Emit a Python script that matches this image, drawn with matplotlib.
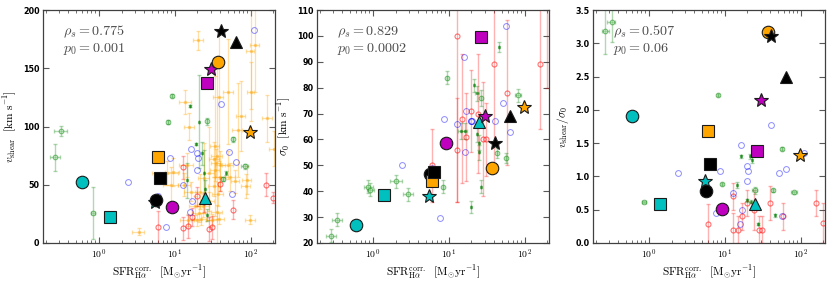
import numpy as np
import matplotlib
matplotlib.use("Agg")
import matplotlib.pyplot as plt
from matplotlib.ticker import FuncFormatter, LogLocator, MultipleLocator, NullFormatter

plt.rcParams['mathtext.fontset'] = 'cm'
plt.rcParams['font.family'] = ['DejaVu Sans']

# ---------------- data ----------------
# large symbols (same galaxies in all panels)
big_x = [0.6, 1.4, 5.5, 5.7, 6.0, 6.4, 9.3, 25.0, 26.5, 30.5, 37.0, 41.0, 65.0, 97.0]
big_marker = ['o', 's', '*', 'o', 's', 's', 'o', '^', 's', '*', 'o', '*', '^', '*']
big_color = ['c', 'c', 'c', 'k', '#FFA500', 'k', 'm', 'c', 'm', 'm', '#FFA500', 'k', 'k', '#FFA500']
big_vshear = [52, 22.3, 35.4, 37, 73.7, 55.7, 30.5, 39, 137.7, 149, 155, 182, 172.6, 95.4]
big_sigma = [27.1, 38.5, 38.0, 46.7, 43.9, 47.5, 58.6, 66.8, 99.4, 69.2, 48.9, 58.6, 69.0, 72.4]
big_ratio = [1.915, 0.58, 0.935, 0.785, 1.685, 1.185, 0.515, 0.58, 1.385, 2.15, 3.165, 3.115, 2.5, 1.315]

# red sample
red_x = [6.0, 13.0, 13.0, 15.0, 17.0, 19.5, 24.5, 28.3, 31.4, 40.0, 58.0, 160.0, 198.0]
red_vshear = [13.4, 65, 12.6, 14.3, 22.3, 40, 35, 12, 13.4, 51, 28.6, 50, 39]
red_vshear_err = [14, 10, 10, 10, 8, 8, 8, 10, 10, 6, 8, 10, 5]
red_sigma = [50, 100, 56, 68, 61, 71, 70, 60, 60, 89, 78, 89, 130]
red_sigma_err = [14, 64, 20, 25, 17, 16, 23, 22, 14, 42, 28, 25, 50]
red_ratio = [0.29, 0.70, 0.20, 0.20, 0.40, 0.60, 0.50, 0.20, 0.20, 0.60, 0.40, 0.60, 0.30]
red_ratio_err = [0.3, 0.2, 0.25, 0.2, 0.2, 0.2, 0.3, 0.2, 0.2, 0.25, 0.2, 0.2, 0.3]

# blue sample
blue_x = [2.45, 6.1, 7.7, 8.6, 12.8, 16.0, 16.6, 17.1, 19.6, 20.2, 19.8, 41, 52, 57, 64, 111]
blue_vshear = [52.6, 40.6, 13.4, 72.6, 49.7, 26.9, 80.9, 35.7, 76.9, 72.9, 62.3, 118.9, 77.7, 42, 69.7, 183]
blue_sigma = [50, 49, 29.8, 68, 66, 92, 55, 71, 67, 67, 67, 67, 74, 104, 63, 135]
blue_ratio = [1.05, 0.825, 0.45, 1.075, 0.75, 0.28, 1.465, 0.50, 1.15, 1.08, 0.925, 1.775, 1.05, 0.40, 1.105, 1.35]

# green sample, panel by panel
g1_x = [0.27, 0.32, 0.85, 8.2, 9.3, 16, 14.5, 19.3, 20.8, 23, 24.6, 26.7, 24.9, 26.8, 44, 48, 58, 84]
g1_xerr = [0.04, 0.06, 0.05, 0, 0, 0, 0, 0, 0, 0, 0, 0, 0, 0, 0, 0, 0, 10]
g1_y = [73.4, 96.3, 25.7, 103.7, 126.6, 117.7, 54, 85, 104, 77, 60, 104.6, 46, 24, 55, 60, 89, 65.7]
g1_yerr = [12, 4.5, 22, 1.5, 1.5, 1, 15, 1, 40, 10, 20, 3, 8, 5, 2, 2, 2, 2]
g1_open = [1, 1, 1, 1, 1, 0, 0, 0, 0, 0, 0, 1, 0, 0, 1, 0, 1, 1]

g2_x = [0.285, 0.342, 0.88, 0.93, 2.06, 2.95, 8.5, 9.5, 14.7, 16.2, 20, 21.5, 23.5, 24, 25, 25.5, 26.6, 27, 43, 46, 57, 82]
g2_xerr = [0.04, 0.05, 0.12, 0.1, 0.35, 0.45, 0, 0, 1.5, 1.5, 0, 0, 1.5, 0, 0, 0, 0, 0, 0, 0, 0, 8]
g2_y = [22.8, 28.9, 41.8, 40.6, 43.8, 38.9, 41.7, 83.9, 63.2, 63.2, 33.9, 81, 77.8, 62, 58.8, 55, 76, 41.8, 54.8, 95.8, 52.8, 77]
g2_yerr = [2.5, 2.5, 2.5, 2.5, 2.5, 2.5, 2.5, 2.5, 3, 3, 2.5, 2.5, 3, 3, 3, 3, 3, 2.5, 2, 2, 2, 2.5]
g2_open = [1, 1, 1, 1, 1, 1, 1, 1, 0, 0, 0, 0, 0, 0, 0, 0, 1, 0, 1, 0, 1, 1]

g3_x = [0.27, 0.325, 0.86, 8.3, 9.3, 14.7, 16.3, 19.5, 21.5, 23, 25, 27, 27.5, 22, 43, 46.5, 57, 82]
g3_xerr = [0.03, 0.04, 0.05, 0, 0, 0, 0, 0, 0, 0, 2, 0, 0, 0, 0, 0, 0, 8]
g3_y = [3.19, 3.325, 0.615, 2.225, 0.885, 0.87, 1.30, 0.64, 1.30, 1.25, 0.79, 1.39, 0.285, 0.62, 0.79, 0.415, 1.415, 0.76]
g3_yerr = [0.35, 0.3, 0.02, 0.02, 0.02, 0.05, 0.02, 0.02, 0.04, 0.05, 0.05, 0.03, 0.02, 0.02, 0.02, 0.02, 0.02, 0.02]
g3_open = [1, 1, 1, 1, 1, 0, 0, 0, 0, 0, 1, 1, 0, 0, 1, 0, 1, 1]

# orange sample (only v_shear)
or_x = [3.35, 20.5, 13.9, 15.7, 51, 38, 74, 67.6, 100, 114, 100, 166, 205, 99, 89, 87, 54, 63, 34, 36,
        33, 35, 34, 50, 40, 40, 28.7, 24.6, 14.5, 9.4, 8.0, 9.0, 13.5, 16.5, 21.8, 18.5, 21, 24, 36,
        38.5, 14.8, 19.5, 22, 30.7, 28, 36.8, 32.6]
or_xerr = [0.6, 3, 2.5, 2.5, 8, 6, 10, 10, 12, 15, 10, 25, 30, 15, 12, 12, 8, 8, 5, 6,
           5, 5, 5, 8, 6, 6, 4, 4, 3, 2, 3, 2, 2.5, 3, 3, 3, 4, 4, 6,
           6, 3, 3, 4, 5, 5, 6, 5]
or_y = [9.7, 174, 121, 100, 130, 125, 109, 97, 165, 170, 130, 107, 81, 20, 54, 49, 57, 53, 83, 75,
        72, 69, 63, 67, 66.6, 57, 60, 56, 67, 60.6, 60, 50, 50, 44, 44, 32, 25.7, 32, 27,
        21, 20, 20, 20.6, 20, 35.7, 42, 48.6]
or_yerr = [3, 8, 10, 12, 45, 55, 30, 40, 50, 40, 25, 20, 15, 4, 12, 10, 12, 10, 60, 80,
           15, 12, 10, 12, 12, 12, 40, 30, 10, 12, 10, 15, 10, 8, 15, 8, 8, 10, 6,
           5, 5, 5, 5, 5, 8, 10, 8]

# panel definitions
titles_y = [r'$v_{\rm shear}\ \ [{\rm km\ s^{-1}}]$', r'$\sigma_0\ \ [{\rm km\ s^{-1}}]$',
            r'$v_{\rm shear}/\sigma_0$']
stats_rho = [r'$\rho_s = 0.775$', r'$\rho_s = 0.829$', r'$\rho_s = 0.507$']
stats_p = [r'$p_0 = 0.001$', r'$p_0 = 0.0002$', r'$p_0 = 0.06$']
ylims = [(0, 200), (20, 110), (0, 3.5)]
ysteps = [50, 10, 0.5]

# ---------------- figure ----------------
fig = plt.figure(figsize=(8.31, 2.82), dpi=100)
lefts = [43 / 831, 317 / 831, 593 / 831]
axes = [fig.add_axes([l, 39 / 282, 232 / 831, 233 / 282]) for l in lefts]

red_y = [red_vshear, red_sigma, red_ratio]
red_e = [red_vshear_err, red_sigma_err, red_ratio_err]
blue_y = [blue_vshear, blue_sigma, blue_ratio]
big_y = [big_vshear, big_sigma, big_ratio]
green = [(g1_x, g1_xerr, g1_y, g1_yerr, g1_open), (g2_x, g2_xerr, g2_y, g2_yerr, g2_open),
         (g3_x, g3_xerr, g3_y, g3_yerr, g3_open)]

for i, ax in enumerate(axes):
    ax.set_xscale('log')
    # orange (panel 1 only)
    if i == 0:
        ax.errorbar(or_x, or_y, xerr=or_xerr, yerr=or_yerr, fmt='s', ms=1.8, color='#FFA500',
                    mec='#FFA500', ecolor='#FFA500', alpha=0.35, elinewidth=0.9, capsize=1.2, zorder=2)
    # red
    ax.errorbar(red_x, red_y[i], yerr=red_e[i], fmt='none', ecolor='red', alpha=0.3,
                elinewidth=1.0, capsize=1.5, zorder=2)
    ax.plot(red_x, red_y[i], 'o', ms=3.6, mfc='none', mec='red', mew=0.8, alpha=0.55, zorder=3)
    # green
    gx, gxe, gy, gye, go = green[i]
    ax.errorbar(gx, gy, xerr=gxe, yerr=gye, fmt='none', ecolor='green', alpha=0.3,
                elinewidth=1.0, capsize=1.5, zorder=2)
    ox = [x for x, o in zip(gx, go) if o]
    oy = [y for y, o in zip(gy, go) if o]
    dx = [x for x, o in zip(gx, go) if not o]
    dy = [y for y, o in zip(gy, go) if not o]
    ax.plot(ox, oy, 'o', ms=3.4, mfc=(0.6, 0.85, 0.6), mec='green', mew=0.7, alpha=0.5, zorder=3)
    ax.plot(dx, dy, 's', ms=2.0, mfc='green', mec='green', mew=0.5, alpha=0.55, zorder=3)
    # blue
    ax.plot(blue_x, blue_y[i], 'o', ms=4.2, mfc='none', mec='blue', mew=0.7, alpha=0.45, zorder=3)
    # big symbols
    for x, y, m, c in zip(big_x, big_y[i], big_marker, big_color):
        ms = {'o': 9.0, 's': 8.0, '*': 10.0, '^': 8.2}[m]
        ax.plot([x], [y], m, ms=ms, color=c, mec='0.1', mew=0.8, zorder=5)

    ax.set_xlim(0.185, 210)
    ax.set_ylim(*ylims[i])
    ax.yaxis.set_major_locator(MultipleLocator(ysteps[i]))
    ax.xaxis.set_major_locator(LogLocator(base=10, numticks=10))
    ax.xaxis.set_minor_locator(LogLocator(base=10, subs=np.arange(2, 10), numticks=10))
    ax.xaxis.set_minor_formatter(NullFormatter())
    ax.xaxis.set_major_formatter(FuncFormatter(lambda v, p: r'$10^{%d}$' % round(np.log10(v))))
    if i == 2:
        ax.yaxis.set_major_formatter(FuncFormatter(lambda v, p: '%.1f' % v))
    else:
        ax.yaxis.set_major_formatter(FuncFormatter(lambda v, p: '%d' % round(v)))
    ax.tick_params(which='both', direction='in', top=True, right=True, color='0.35')
    ax.tick_params(which='major', length=4, width=0.8, labelsize=7, pad=3)
    ax.tick_params(axis='y', which='major', pad=2.5)
    ax.tick_params(which='minor', length=2, width=0.6)
    for lab in ax.get_yticklabels():
        lab.set_fontweight('bold')
        lab.set_fontsize(5.8)
    for s in ax.spines.values():
        s.set_color('0.25')
        s.set_linewidth(0.9)
    ax.set_xlabel(r'${\rm SFR}^{\rm corr.}_{\rm H\alpha}\ \ [{\rm M_{\odot}yr^{-1}}]$', fontsize=8.2, labelpad=2)
    ax.set_ylabel(titles_y[i], fontsize=8.2, labelpad=3)
    ax.text(0.085, 0.89, stats_rho[i], transform=ax.transAxes, fontsize=10.2, color='0.3', zorder=6)
    ax.text(0.085, 0.818, stats_p[i], transform=ax.transAxes, fontsize=10.2, color='0.3', zorder=6)

fig.savefig('out.png', dpi=100)
